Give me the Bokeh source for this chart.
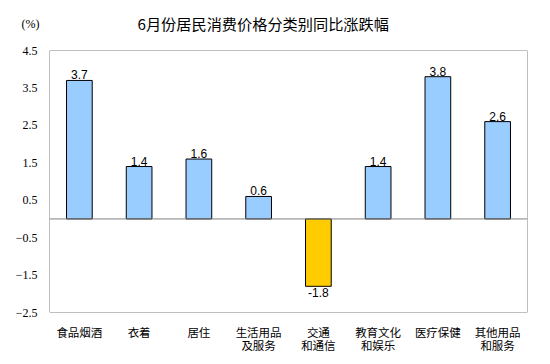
from bokeh.plotting import figure
from bokeh.models import FactorRange, Range1d, FixedTicker, Span, ColumnDataSource, BoxAnnotation, Title
from bokeh.core.properties import value
from bokeh.embed import file_html
from bokeh.resources import INLINE

title_text = "6月份居民消费价格分类别同比涨跌幅"
unit_text = "(%)"
categories = ["食品烟酒", "衣着", "居住", "生活用品\n及服务", "交通\n和通信", "教育文化\n和娱乐", "医疗保健", "其他用品\n和服务"]
values = [3.7, 1.4, 1.6, 0.6, -1.8, 1.4, 3.8, 2.6]
y_ticks = [-2.5, -1.5, -0.5, 0.5, 1.5, 2.5, 3.5, 4.5]

POS_COLOR = "#99CCFF"
NEG_COLOR = "#FFCC00"

colors = [POS_COLOR if v >= 0 else NEG_COLOR for v in values]
src = ColumnDataSource(dict(x=categories, top=values, color=colors))

p = figure(frame_width=478, frame_height=262, x_range=FactorRange(*categories, range_padding=0),
           y_range=Range1d(-2.5, 4.5), output_backend="svg", toolbar_location=None,
           min_border_left=49, min_border_right=8, min_border_top=50, min_border_bottom=30)

p.vbar(x="x", top="top", bottom=0, width=0.43, fill_color="color",
       line_color="black", line_width=1, source=src)

pos = ColumnDataSource(dict(x=[c for c, v in zip(categories, values) if v >= 0],
                            y=[v for v in values if v >= 0],
                            t=[f"{v:.1f}" for v in values if v >= 0]))
neg = ColumnDataSource(dict(x=[c for c, v in zip(categories, values) if v < 0],
                            y=[v for v in values if v < 0],
                            t=[f"{v:.1f}" for v in values if v < 0]))
p.text(x="x", y="y", text="t", source=pos, text_align="center", text_baseline="bottom",
       y_offset=-1, text_font=value("Liberation Sans"), text_font_size="12px", text_color="black")
p.text(x="x", y="y", text="t", source=neg, text_align="center", text_baseline="top",
       y_offset=2, text_font=value("Liberation Sans"), text_font_size="12px", text_color="black")

p.add_layout(Span(location=0, dimension="width", line_color="#808080", line_width=1))
p.add_layout(BoxAnnotation(fill_alpha=0, line_color="#808080", line_width=1, line_alpha=1))

p.outline_line_color = None
p.xgrid.visible = False
p.ygrid.visible = False

ya = p.yaxis[0]
ya.ticker = FixedTicker(ticks=y_ticks)
ya.axis_line_color = None
ya.major_tick_line_color = None
ya.minor_tick_line_color = None
ya.major_tick_out = 0
ya.major_tick_in = 0
ya.minor_tick_out = 0
ya.major_label_text_font = "Liberation Serif"
ya.major_label_text_font_size = "12px"
ya.major_label_text_color = "black"
ya.major_label_standoff = 12

xa = p.xaxis[0]
xa.axis_line_color = None
xa.major_tick_line_color = None
xa.minor_tick_line_color = None
xa.major_tick_out = 0
xa.major_tick_in = 0
xa.minor_tick_out = 0
xa.major_label_text_font = "Noto Sans CJK SC"
xa.major_label_text_font_size = "11.5px"
xa.major_label_text_line_height = 0.85
xa.major_label_standoff = 11
xa.major_label_text_color = "black"

p.title.text = title_text
p.title.align = "left"
p.title.offset = 88
p.title.text_font = "Noto Sans CJK SC"
p.title.text_font_size = "15.2px"
p.title.text_font_style = "normal"
p.title.text_color = "black"

stacked = True
try:
    unit_title = Title(text=unit_text, align="left", offset=-28, vertical_align="top",
                       text_font="Liberation Serif", text_font_size="12px",
                       text_font_style="normal", text_color="black", standoff=33.5)
    p.title.vertical_align = "bottom"
    p.title.standoff = -66
except Exception:
    stacked = False

if stacked:
    p.add_layout(unit_title, "above")
else:
    p.title.vertical_align = "bottom"
    p.title.standoff = 24

open("out.html", "w").write(file_html(p, INLINE))
